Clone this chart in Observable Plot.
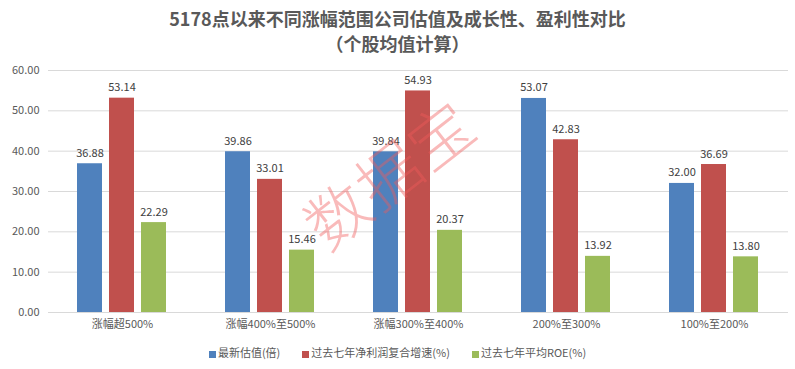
<!DOCTYPE html>
<html>
<head>
<meta charset="utf-8">
<script src="https://cdn.jsdelivr.net/npm/d3@7"></script>
<script src="https://cdn.jsdelivr.net/npm/@observablehq/plot@0.6"></script>
<style>
  body { margin:0; background:#fff; font-family:"Noto Sans CJK SC","Noto Sans",sans-serif; }
  #wrap { position:relative; width:795px; height:369px; overflow:hidden; }
  #title { position:absolute; left:0; top:6px; width:795px; text-align:center; color:#595959; font-weight:bold; font-size:18px; line-height:25px; }
  #subtitle { position:absolute; left:0; top:31px; width:795px; text-align:center; color:#595959; font-weight:bold; font-size:18px; line-height:25px; }
  #chart { position:absolute; left:0; top:55px; }
  #legend { position:absolute; left:0; top:344px; width:795px; display:flex; justify-content:center; gap:22px; font-size:11px; color:#595959; }
  #legend span.sw { display:inline-block; width:7px; height:7px; margin-right:2px; vertical-align:middle; }
  #wm { position:absolute; left:290px; top:126px; font-size:63px; color:rgba(240,90,90,0.42); transform:rotate(-38deg); font-weight:300; letter-spacing:2px; pointer-events:none; white-space:nowrap; }
</style>
</head>
<body>
<div id="wrap">
  <div id="title">5178点以来不同涨幅范围公司估值及成长性、盈利性对比</div>
  <div id="subtitle">（个股均值计算）</div>
  <div id="chart"></div>
  <div id="legend"></div>
  <div id="wm">数据宝</div>
</div>
<script>
const categories = ["涨幅超500%", "涨幅400%至500%", "涨幅300%至400%", "200%至300%", "100%至200%"];
const series = ["最新估值(倍)", "过去七年净利润复合增速(%)", "过去七年平均ROE(%)"];
const valuation = [36.88, 39.86, 39.84, 53.07, 32.00];
const growth = [53.14, 33.01, 54.93, 42.83, 36.69];
const roe = [22.29, 15.46, 20.37, 13.92, 13.80];
const yTicks = [0, 10, 20, 30, 40, 50, 60];
const colors = ["#4F81BD", "#C0504D", "#9BBB59"];

const valuesBySeries = [valuation, growth, roe];
const data = [];
categories.forEach((c, i) => {
  series.forEach((s, j) => data.push({cat: c, series: s, value: valuesBySeries[j][i]}));
});

const plot = Plot.plot({
  width: 795,
  height: 283,
  marginLeft: 46,
  marginRight: 6,
  marginTop: 15,
  marginBottom: 26,
  style: {fontFamily: "'Noto Sans CJK SC','Noto Sans',sans-serif", fontSize: "11px", color: "#595959", background: "transparent"},
  fx: {domain: categories, padding: 0, label: null, axis: "bottom", tickSize: 0, tickPadding: 8},
  x: {domain: series, paddingInner: 0.212, paddingOuter: 0.856, axis: null},
  y: {domain: [0, 60], ticks: yTicks, tickFormat: d3.format(".2f"), tickSize: 0, tickPadding: 9, label: null},
  color: {domain: series, range: colors},
  marks: [
    Plot.ruleY(yTicks, {stroke: "#D9D9D9", strokeWidth: 1}),
    Plot.barY(data, {fx: "cat", x: "series", y: "value", fill: "series"}),
    Plot.text(data, {fx: "cat", x: "series", y: "value", text: d => d.value.toFixed(2), lineAnchor: "bottom", dy: -7, fill: "#404040", fontSize: 11})
  ]
});
document.getElementById("chart").appendChild(plot);

const legend = document.getElementById("legend");
series.forEach((s, j) => {
  const item = document.createElement("div");
  item.innerHTML = `<span class="sw" style="background:${colors[j]}"></span>${s}`;
  legend.appendChild(item);
});
</script>
</body>
</html>
